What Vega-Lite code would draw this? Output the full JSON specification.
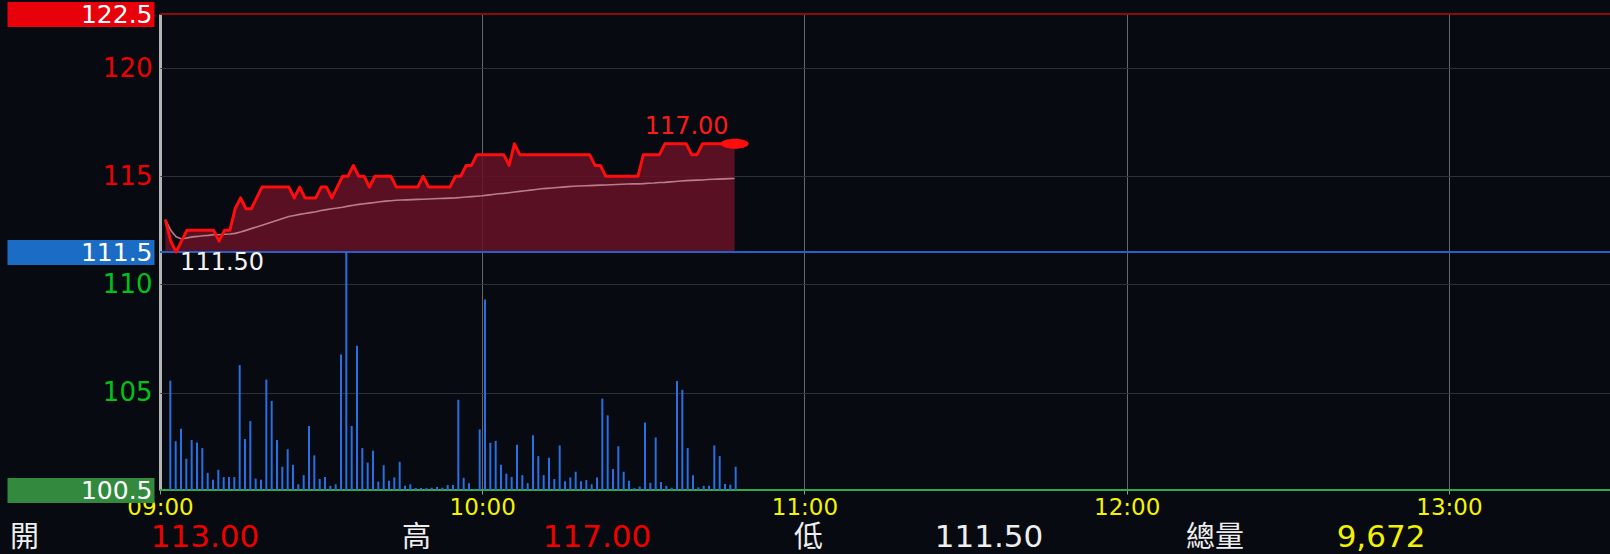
{
  "$schema": "https://vega.github.io/schema/vega-lite/v6.json",
  "width": 1450,
  "height": 476,
  "autosize": {"type": "none"},
  "padding": {"left": 160, "top": 14, "right": 0, "bottom": 64},
  "background": "#070a10",
  "config": {"view": {"stroke": null}, "font": "DejaVu Sans"},
  "data": {
    "format": {"parse": {"time": "utc:'%H:%M'"}},
    "values": [
      {"time":"09:01","price":113,"avg":113.0,"volume":287},
      {"time":"09:02","price":112,"avg":112.5,"volume":128},
      {"time":"09:03","price":111.5,"avg":112.2,"volume":161},
      {"time":"09:04","price":112,"avg":112.1,"volume":82},
      {"time":"09:05","price":112.5,"avg":112.15,"volume":131},
      {"time":"09:06","price":112.5,"avg":112.2,"volume":125},
      {"time":"09:07","price":112.5,"avg":112.22,"volume":110},
      {"time":"09:08","price":112.5,"avg":112.25,"volume":45},
      {"time":"09:09","price":112.5,"avg":112.27,"volume":27},
      {"time":"09:10","price":112.5,"avg":112.3,"volume":53},
      {"time":"09:11","price":112,"avg":112.3,"volume":34},
      {"time":"09:12","price":112.5,"avg":112.32,"volume":34},
      {"time":"09:13","price":112.5,"avg":112.33,"volume":34},
      {"time":"09:14","price":113.5,"avg":112.36,"volume":328},
      {"time":"09:15","price":114,"avg":112.42,"volume":134},
      {"time":"09:16","price":113.5,"avg":112.5,"volume":181},
      {"time":"09:17","price":113.5,"avg":112.58,"volume":30},
      {"time":"09:18","price":114,"avg":112.66,"volume":27},
      {"time":"09:19","price":114.5,"avg":112.74,"volume":290},
      {"time":"09:20","price":114.5,"avg":112.82,"volume":234},
      {"time":"09:21","price":114.5,"avg":112.9,"volume":131},
      {"time":"09:22","price":114.5,"avg":112.98,"volume":61},
      {"time":"09:23","price":114.5,"avg":113.06,"volume":107},
      {"time":"09:24","price":114.5,"avg":113.14,"volume":66},
      {"time":"09:25","price":114,"avg":113.19,"volume":15},
      {"time":"09:26","price":114.5,"avg":113.24,"volume":39},
      {"time":"09:27","price":114,"avg":113.28,"volume":168},
      {"time":"09:28","price":114,"avg":113.32,"volume":91},
      {"time":"09:29","price":114,"avg":113.36,"volume":29},
      {"time":"09:30","price":114.5,"avg":113.42,"volume":34},
      {"time":"09:31","price":114.5,"avg":113.46,"volume":11},
      {"time":"09:32","price":114,"avg":113.5,"volume":15},
      {"time":"09:33","price":114.5,"avg":113.53,"volume":356},
      {"time":"09:34","price":115,"avg":113.57,"volume":625},
      {"time":"09:35","price":115,"avg":113.62,"volume":168},
      {"time":"09:36","price":115.5,"avg":113.66,"volume":379},
      {"time":"09:37","price":115,"avg":113.7,"volume":110},
      {"time":"09:38","price":115,"avg":113.73,"volume":72},
      {"time":"09:39","price":114.5,"avg":113.76,"volume":103},
      {"time":"09:40","price":115,"avg":113.79,"volume":22},
      {"time":"09:41","price":115,"avg":113.82,"volume":65},
      {"time":"09:42","price":115,"avg":113.85,"volume":24},
      {"time":"09:43","price":115,"avg":113.87,"volume":33},
      {"time":"09:44","price":114.5,"avg":113.89,"volume":74},
      {"time":"09:45","price":114.5,"avg":113.9,"volume":11},
      {"time":"09:46","price":114.5,"avg":113.91,"volume":15},
      {"time":"09:47","price":114.5,"avg":113.92,"volume":5},
      {"time":"09:48","price":114.5,"avg":113.93,"volume":5},
      {"time":"09:49","price":115,"avg":113.94,"volume":5},
      {"time":"09:50","price":114.5,"avg":113.95,"volume":6},
      {"time":"09:51","price":114.5,"avg":113.96,"volume":8},
      {"time":"09:52","price":114.5,"avg":113.97,"volume":6},
      {"time":"09:53","price":114.5,"avg":113.98,"volume":13},
      {"time":"09:54","price":114.5,"avg":113.99,"volume":13},
      {"time":"09:55","price":115,"avg":114.0,"volume":237},
      {"time":"09:56","price":115,"avg":114.02,"volume":32},
      {"time":"09:57","price":115.5,"avg":114.04,"volume":18},
      {"time":"09:58","price":115.5,"avg":114.06,"volume":3},
      {"time":"09:59","price":116,"avg":114.08,"volume":159},
      {"time":"10:00","price":116,"avg":114.1,"volume":500},
      {"time":"10:01","price":116,"avg":114.13,"volume":124},
      {"time":"10:02","price":116,"avg":114.16,"volume":129},
      {"time":"10:03","price":116,"avg":114.19,"volume":66},
      {"time":"10:04","price":116,"avg":114.21,"volume":43},
      {"time":"10:05","price":115.5,"avg":114.24,"volume":34},
      {"time":"10:06","price":116.5,"avg":114.27,"volume":119},
      {"time":"10:07","price":116,"avg":114.3,"volume":39},
      {"time":"10:08","price":116,"avg":114.33,"volume":18},
      {"time":"10:09","price":116,"avg":114.36,"volume":144},
      {"time":"10:10","price":116,"avg":114.39,"volume":89},
      {"time":"10:11","price":116,"avg":114.42,"volume":39},
      {"time":"10:12","price":116,"avg":114.44,"volume":85},
      {"time":"10:13","price":116,"avg":114.46,"volume":29},
      {"time":"10:14","price":116,"avg":114.48,"volume":117},
      {"time":"10:15","price":116,"avg":114.5,"volume":23},
      {"time":"10:16","price":116,"avg":114.52,"volume":33},
      {"time":"10:17","price":116,"avg":114.54,"volume":48},
      {"time":"10:18","price":116,"avg":114.55,"volume":23},
      {"time":"10:19","price":116,"avg":114.56,"volume":26},
      {"time":"10:20","price":116,"avg":114.57,"volume":15},
      {"time":"10:21","price":115.5,"avg":114.58,"volume":33},
      {"time":"10:22","price":115.5,"avg":114.59,"volume":240},
      {"time":"10:23","price":115,"avg":114.6,"volume":196},
      {"time":"10:24","price":115,"avg":114.61,"volume":55},
      {"time":"10:25","price":115,"avg":114.62,"volume":115},
      {"time":"10:26","price":115,"avg":114.63,"volume":48},
      {"time":"10:27","price":115,"avg":114.64,"volume":24},
      {"time":"10:28","price":115,"avg":114.65,"volume":5},
      {"time":"10:29","price":115,"avg":114.65,"volume":9},
      {"time":"10:30","price":116,"avg":114.66,"volume":177},
      {"time":"10:31","price":116,"avg":114.68,"volume":19},
      {"time":"10:32","price":116,"avg":114.69,"volume":138},
      {"time":"10:33","price":116,"avg":114.71,"volume":21},
      {"time":"10:34","price":116.5,"avg":114.72,"volume":11},
      {"time":"10:35","price":116.5,"avg":114.74,"volume":6},
      {"time":"10:36","price":116.5,"avg":114.76,"volume":286},
      {"time":"10:37","price":116.5,"avg":114.78,"volume":263},
      {"time":"10:38","price":116.5,"avg":114.8,"volume":110},
      {"time":"10:39","price":116,"avg":114.81,"volume":39},
      {"time":"10:40","price":116,"avg":114.82,"volume":7},
      {"time":"10:41","price":116.5,"avg":114.83,"volume":11},
      {"time":"10:42","price":116.5,"avg":114.85,"volume":11},
      {"time":"10:43","price":116.5,"avg":114.86,"volume":117},
      {"time":"10:44","price":116.5,"avg":114.87,"volume":89},
      {"time":"10:45","price":116.5,"avg":114.88,"volume":16},
      {"time":"10:46","price":116.5,"avg":114.89,"volume":14},
      {"time":"10:47","price":116.5,"avg":114.9,"volume":61}
    ]
  },
  "resolve": {"scale": {"x": "independent", "y": "independent"}},
  "layer": [
    {
      "resolve": {"axis": {"y": "independent"}},
      "encoding": {
        "x": {
          "field": "time",
          "type": "temporal",
          "scale": {
            "type": "utc",
            "domain": [
              {"year": 1900, "month": 1, "date": 1, "hours": 9, "minutes": 0, "utc": true},
              {"year": 1900, "month": 1, "date": 1, "hours": 13, "minutes": 30, "utc": true}
            ]
          },
          "axis": {
            "title": null,
            "values": [
              {"year": 1900, "month": 1, "date": 1, "hours": 9, "utc": true},
              {"year": 1900, "month": 1, "date": 1, "hours": 10, "utc": true},
              {"year": 1900, "month": 1, "date": 1, "hours": 11, "utc": true},
              {"year": 1900, "month": 1, "date": 1, "hours": 12, "utc": true},
              {"year": 1900, "month": 1, "date": 1, "hours": 13, "utc": true}
            ],
            "labelExpr": "utcFormat(datum.value, '%H:%M')",
            "domain": false,
            "grid": true,
            "gridColor": {"condition": {"test": "utchours(datum.value) == 9", "value": "#b4b4b4"}, "value": "#65686e"},
            "gridWidth": {"condition": {"test": "utchours(datum.value) == 9", "value": 3}, "value": 1},
            "ticks": true,
            "tickSize": 4,
            "tickColor": "#9a9a9a",
            "tickWidth": 1,
            "labelColor": "#f4f400",
            "labelFont": "DejaVu Sans",
            "labelFontSize": 23,
            "labelPadding": 13,
            "labelBaseline": "middle",
            "labelFlush": false,
            "labelOverlap": false
          }
        },
        "y": {
          "field": "price",
          "type": "quantitative",
          "scale": {"domain": [100.5, 122.5], "zero": false, "nice": false},
          "axis": null
        }
      },
      "layer": [
        {
          "mark": {"type": "area", "color": "#661226", "opacity": 0.85},
          "encoding": {
            "y": {
              "field": "price",
              "type": "quantitative",
              "scale": {"domain": [100.5, 122.5], "zero": false, "nice": false},
              "axis": {
                "orient": "left",
                "title": null,
                "values": [105, 110, 115, 120],
                "labelExpr": "'' + datum.value",
                "domain": false,
                "ticks": false,
                "grid": true,
                "gridColor": "#2c3038",
                "gridWidth": 1,
                "labelPadding": 8,
                "labelColor": {"condition": {"test": "datum.value > 111.5", "value": "#ee0000"}, "value": "#00c21a"},
                "labelFont": "DejaVu Sans",
                "labelFontSize": 26,
                "labelBaseline": "middle",
                "labelFlush": false,
                "labelOverlap": false,
                "labelBound": false
              }
            },
            "y2": {"datum": 111.5}
          }
        },
        {
          "mark": {"type": "rule", "color": "#8a0d0d", "strokeWidth": 1.5},
          "encoding": {
            "x": null,
            "y": {
              "datum": 122.5, "type": "quantitative",
              "scale": {"domain": [100.5, 122.5], "zero": false, "nice": false},
              "axis": {
                "orient": "left", "title": null, "values": [122.5], "labelExpr": "'' + datum.value",
                "domain": false, "grid": false, "offset": 6,
                "ticks": true, "tickSize": 147, "tickWidth": 25, "tickCap": "butt", "tickColor": "#e8000b",
                "labelPadding": -145, "labelColor": "#ffffff", "labelFont": "DejaVu Sans", "labelFontSize": 25,
                "labelBaseline": "middle", "labelFlush": false, "labelOverlap": false, "labelBound": false
              }
            }
          }
        },
        {
          "mark": {"type": "rule", "color": "#2262c8", "strokeWidth": 1.5},
          "encoding": {
            "x": null,
            "y": {
              "datum": 111.5, "type": "quantitative",
              "scale": {"domain": [100.5, 122.5], "zero": false, "nice": false},
              "axis": {
                "orient": "left", "title": null, "values": [111.5], "labelExpr": "'' + datum.value",
                "domain": false, "grid": false, "offset": 6,
                "ticks": true, "tickSize": 147, "tickWidth": 25, "tickCap": "butt", "tickColor": "#1a6cc4",
                "labelPadding": -145, "labelColor": "#ffffff", "labelFont": "DejaVu Sans", "labelFontSize": 25,
                "labelBaseline": "middle", "labelFlush": false, "labelOverlap": false, "labelBound": false
              }
            }
          }
        },
        {
          "mark": {"type": "rule", "color": "#36aa4a", "strokeWidth": 1.5},
          "encoding": {
            "x": null,
            "y": {
              "datum": 100.5, "type": "quantitative",
              "scale": {"domain": [100.5, 122.5], "zero": false, "nice": false},
              "axis": {
                "orient": "left", "title": null, "values": [100.5], "labelExpr": "'' + datum.value",
                "domain": false, "grid": false, "offset": 6,
                "ticks": true, "tickSize": 147, "tickWidth": 25, "tickCap": "butt", "tickColor": "#338a3e",
                "labelPadding": -145, "labelColor": "#ffffff", "labelFont": "DejaVu Sans", "labelFontSize": 25,
                "labelBaseline": "middle", "labelFlush": false, "labelOverlap": false, "labelBound": false
              }
            }
          }
        },
        {
          "mark": {"type": "line", "color": "#c48a96", "strokeWidth": 1.6, "opacity": 0.9},
          "encoding": {"y": {"field": "avg", "type": "quantitative", "scale": {"domain": [100.5, 122.5], "zero": false, "nice": false}, "axis": null}}
        },
        {
          "mark": {"type": "line", "color": "#ff0d0d", "strokeWidth": 3, "strokeJoin": "round"}
        },
        {
          "transform": [{"filter": "utchours(datum.time) == 10 && utcminutes(datum.time) == 47"}],
          "mark": {"type": "point", "filled": true, "color": "#ff0d0d", "opacity": 1, "size": 400,
                   "shape": "M -1.4 0 A 1.4 0.5 0 1 0 1.4 0 A 1.4 0.5 0 1 0 -1.4 0 Z"}
        },
        {
          "data": {"format": {"parse": {"time": "utc:'%H:%M'"}}, "values": [{"time": "10:47", "price": 117, "label": "117.00"}]},
          "mark": {"type": "text", "align": "center", "baseline": "alphabetic", "dx": -48, "dy": 1, "font": "DejaVu Sans", "fontSize": 24, "color": "#ff1a1a"},
          "encoding": {"text": {"field": "label"}}
        },
        {
          "data": {"format": {"parse": {"time": "utc:'%H:%M'"}}, "values": [{"time": "09:03", "price": 111.5, "label": "111.50"}]},
          "mark": {"type": "text", "align": "left", "baseline": "top", "dx": 4, "dy": -1, "font": "DejaVu Sans", "fontSize": 24, "color": "#f2f2f2"},
          "encoding": {"text": {"field": "label"}}
        }
      ]
    },
    {
      "mark": {"type": "bar", "width": 2, "color": "#2a6fe0"},
      "encoding": {
        "x": {
          "field": "time",
          "type": "temporal",
          "scale": {
            "type": "utc",
            "domain": [
              {"year": 1900, "month": 1, "date": 1, "hours": 9, "minutes": 0, "utc": true},
              {"year": 1900, "month": 1, "date": 1, "hours": 13, "minutes": 30, "utc": true}
            ]
          },
          "axis": null
        },
        "y": {"field": "volume", "type": "quantitative", "scale": {"domain": [0, 1250], "nice": false}, "axis": null}
      }
    },
    {
      "data": {"values": [
        {"name": "開", "value": "113.00"},
        {"name": "高", "value": "117.00"},
        {"name": "低", "value": "111.50"},
        {"name": "總量", "value": "9,672"}
      ]},
      "encoding": {
        "x": {"field": "name", "type": "nominal", "scale": {"type": "point", "padding": 0, "domain": ["開", "高", "低", "總量"], "range": [-150, 1026]}, "axis": null},
        "y": {"datum": 98.3, "type": "quantitative", "scale": {"domain": [100.5, 122.5], "zero": false, "nice": false}, "axis": null}
      },
      "layer": [
        {
          "mark": {"type": "text", "align": "left", "baseline": "middle", "font": "Noto Sans CJK TC", "fontSize": 29, "color": "#eeeeee"},
          "encoding": {"text": {"field": "name"}}
        },
        {
          "mark": {"type": "text", "align": "center", "baseline": "middle", "font": "DejaVu Sans", "fontSize": 31, "dx": 195},
          "encoding": {
            "text": {"field": "value"},
            "color": {"field": "name", "type": "nominal", "scale": {"domain": ["開", "高", "低", "總量"], "range": ["#ee0000", "#ee0000", "#eeeeee", "#f2f200"]}, "legend": null}
          }
        }
      ]
    }
  ]
}
